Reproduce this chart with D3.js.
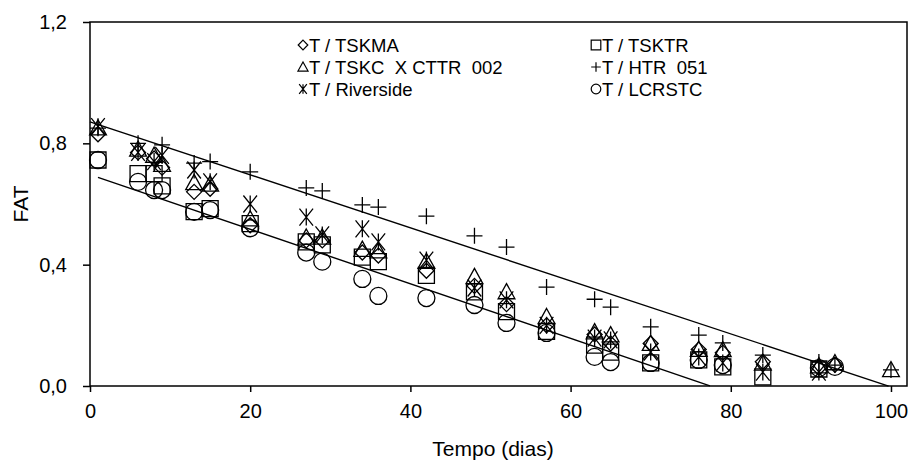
<!DOCTYPE html>
<html>
<head>
<meta charset="utf-8">
<script src="https://cdn.jsdelivr.net/npm/d3@7"></script>
<style>
  body { margin: 0; background: #fff; }
  text { font-family: "Liberation Sans", Arial, sans-serif; fill: #000; }
</style>
</head>
<body>
<svg id="chart" width="914" height="461"></svg>
<script>
// dias de avaliação
const dias = [1, 6, 8, 9, 13, 15, 20, 27, 29, 34, 36, 42, 48, 52, 57, 63, 65, 70, 76, 79, 84, 91, 93, 100]

// FAT por tratamento (null = sem leitura)
const tskma     = [0.83, 0.77, 0.75, 0.72, 0.64, 0.65, 0.53, 0.48, 0.48, 0.44, 0.43, 0.38, 0.33, 0.27, 0.20, 0.17, 0.14, 0.14, 0.12, 0.11, 0.08, 0.06, 0.07, null]
const tsktr     = [0.745, 0.70, 0.70, 0.66, 0.575, 0.585, 0.535, 0.475, 0.465, 0.425, 0.41, 0.365, 0.31, 0.245, 0.18, 0.135, 0.112, 0.076, 0.086, 0.063, 0.03, 0.056, null, null]
const tskc      = [0.85, 0.78, 0.76, 0.73, 0.67, 0.665, 0.55, 0.49, 0.49, 0.45, 0.445, 0.41, 0.36, 0.31, 0.228, 0.178, 0.168, 0.14, 0.12, 0.119, 0.075, 0.066, 0.076, 0.053]
const htr       = [0.85, 0.80, null, 0.795, 0.735, 0.74, 0.706, 0.653, 0.643, 0.597, 0.59, 0.56, 0.495, 0.458, 0.326, 0.286, 0.26, 0.195, 0.168, 0.142, 0.102, 0.079, 0.069, 0.053]
const riverside = [0.855, 0.77, 0.74, 0.76, 0.712, 0.673, 0.60, 0.557, 0.498, 0.518, 0.475, 0.415, 0.323, 0.284, 0.20, 0.158, 0.152, 0.112, 0.096, 0.076, 0.046, 0.046, null, null]
const lcrstc    = [0.745, 0.673, 0.646, 0.646, 0.574, 0.58, 0.52, 0.44, 0.41, 0.353, 0.297, 0.29, 0.267, 0.208, 0.175, 0.096, 0.079, 0.076, 0.086, 0.069, null, 0.059, 0.063, null]

const legendLabels = ['T / TSKMA', 'T / TSKTR', 'T / TSKC  X CTTR  002', 'T / HTR  051', 'T / Riverside', 'T / LCRSTC']

// retas ajustadas: [intercepto, inclinação, dia inicial, dia final]
const retaSuperior = [0.871, -0.00874, 0, 99.7]
const retaInferior = [0.697, -0.009, 1, 77.4]

const xTicks = [0, 20, 40, 60, 80, 100]
const yTicks = [0, 0.4, 0.8, 1.2]

const width = 914
const height = 461
const margin = { top: 22, right: 7, bottom: 75, left: 90 }

const svg = d3.select('#chart')

const x = d3.scaleLinear().domain([0, 102]).range([margin.left, width - margin.right])
const y = d3.scaleLinear().domain([0, 1.2]).range([height - margin.bottom, margin.top])

const fmt = (d) => d3.format('.1f')(d).replace('.', ',')

// simbolos desenhados só com traço
const diamond = {
  draw(ctx, r) {
    ctx.moveTo(0, -r); ctx.lineTo(r, 0); ctx.lineTo(0, r); ctx.lineTo(-r, 0); ctx.closePath()
  }
}
const square = {
  draw(ctx, r) { ctx.rect(-r, -r, 2 * r, 2 * r) }
}
const triangle = {
  draw(ctx, r) {
    ctx.moveTo(0, -r * 1.05); ctx.lineTo(r * 1.05, r * 0.85); ctx.lineTo(-r * 1.05, r * 0.85); ctx.closePath()
  }
}
const plus = {
  draw(ctx, r) {
    ctx.moveTo(-r, 0); ctx.lineTo(r, 0); ctx.moveTo(0, -r); ctx.lineTo(0, r)
  }
}
const asterisk = {
  draw(ctx, r) {
    const a = r * 0.8
    ctx.moveTo(-a, -r); ctx.lineTo(a, r); ctx.moveTo(a, -r); ctx.lineTo(-a, r)
    ctx.moveTo(0, -r); ctx.lineTo(0, r)
  }
}
const circle = {
  draw(ctx, r) { ctx.moveTo(r, 0); ctx.arc(0, 0, r, 0, 2 * Math.PI) }
}

const series = [
  { values: tskma, type: diamond, r: 7.5 },
  { values: tsktr, type: square, r: 8 },
  { values: tskc, type: triangle, r: 8 },
  { values: htr, type: plus, r: 8 },
  { values: riverside, type: asterisk, r: 8.5 },
  { values: lcrstc, type: circle, r: 8.5 }
]

// moldura
svg.append('rect')
  .attr('x', x(0)).attr('y', y(1.2))
  .attr('width', x(102) - x(0)).attr('height', y(0) - y(1.2))
  .attr('fill', 'none').attr('stroke', '#000').attr('stroke-width', 1.5)

// eixos
const xAxis = svg.append('g')
  .attr('transform', 'translate(0,' + y(0) + ')')
  .call(d3.axisBottom(x).tickValues(xTicks).tickSize(6).tickPadding(12).tickSizeOuter(0))
xAxis.select('.domain').remove()
xAxis.selectAll('line').attr('stroke-width', 1.5)
xAxis.selectAll('text').attr('font-size', 20).style('font-family', '"Liberation Sans", Arial, sans-serif')

const yAxis = svg.append('g')
  .attr('transform', 'translate(' + x(0) + ',0)')
  .call(d3.axisLeft(y).tickValues(yTicks).tickFormat(fmt).tickSize(7).tickPadding(16).tickSizeOuter(0))
yAxis.select('.domain').remove()
yAxis.selectAll('line').attr('stroke-width', 1.5)
yAxis.selectAll('text').attr('font-size', 20).style('font-family', '"Liberation Sans", Arial, sans-serif')

svg.append('text')
  .attr('x', 493).attr('y', 456)
  .attr('text-anchor', 'middle').attr('font-size', 21)
  .text('Tempo (dias)')

svg.append('text')
  .attr('transform', 'translate(28,' + (y(0) + y(1.2)) / 2 + ') rotate(-90)')
  .attr('text-anchor', 'middle').attr('font-size', 21)
  .text('FAT')

// retas
const plotG = svg.append('g')
const line = d3.line().x((d) => x(d[0])).y((d) => y(d[1]))
;[retaSuperior, retaInferior].forEach((r) => {
  const pts = [[r[2], r[0] + r[1] * r[2]], [r[3], r[0] + r[1] * r[3]]]
  plotG.append('path')
    .attr('d', line(pts))
    .attr('fill', 'none').attr('stroke', '#000').attr('stroke-width', 1.4)
})

// pontos
series.forEach((s) => {
  const pts = dias.map((d, i) => ({ dia: d, v: s.values[i] })).filter((p) => p.v != null)
  plotG.append('g')
    .selectAll('path')
    .data(pts)
    .enter()
    .append('path')
    .attr('transform', (p) => 'translate(' + x(p.dia) + ',' + y(p.v) + ')')
    .attr('d', d3.symbol().type(s.type).size(s.r))
    .attr('fill', 'none')
    .attr('stroke', '#000')
    .attr('stroke-width', 1.3)
})

// legenda
const legendCols = [303, 596]
const legendRows = [45, 67, 89]
const legend = svg.append('g')
series.forEach((s, i) => {
  const lx = legendCols[i % 2]
  const ly = legendRows[Math.floor(i / 2)]
  legend.append('path')
    .attr('transform', 'translate(' + lx + ',' + ly + ')')
    .attr('d', d3.symbol().type(s.type).size(4.8))
    .attr('fill', 'none').attr('stroke', '#000').attr('stroke-width', 1.2)
  legend.append('text')
    .attr('x', lx + 6).attr('y', ly)
    .attr('dy', '0.36em')
    .attr('font-size', 18.5)
    .style('white-space', 'pre')
    .text(legendLabels[i])
})
</script>
</body>
</html>
